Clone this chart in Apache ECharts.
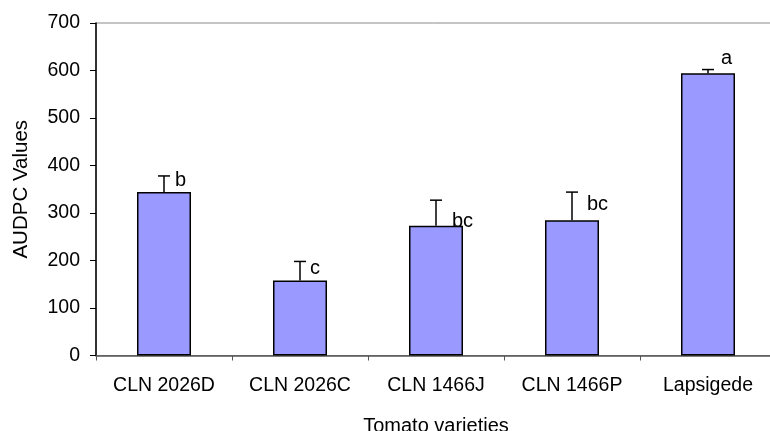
<!DOCTYPE html>
<html>
<head>
<meta charset="utf-8">
<script src="https://cdn.jsdelivr.net/npm/echarts@6/dist/echarts.min.js"></script>
<style>html,body{margin:0;padding:0;background:#fff;}#c{width:770px;height:431px;}</style>
</head>
<body>
<div id="c"></div>
<script>
// ---- data ----
var categories = ['CLN 2026D', 'CLN 2026C', 'CLN 1466J', 'CLN 1466P', 'Lapsigede'];
var audpcMeans = [344, 158, 273, 285, 594];
var audpcErrors = [34, 40, 54, 59, 8];
var significanceLetters = ['b', 'c', 'bc', 'bc', 'a'];
var yTicks = [0, 100, 200, 300, 400, 500, 600, 700];

// ---- styles (label nudges in px relative to error-bar top) ----
var letterNudge = [[11, 5], [10, 7], [16, 21], [15, 12], [13, -11]];
var FONT = '"Liberation Sans", Arial, sans-serif';

var chart = echarts.init(document.getElementById('c'), null, {renderer: 'canvas'});

var errData = categories.map(function (c, i) {
  return [i, audpcMeans[i], audpcMeans[i] + audpcErrors[i], significanceLetters[i]];
});

chart.setOption({
  animation: false,
  backgroundColor: '#ffffff',
  grid: {left: 96, top: 23, right: -6, bottom: 75.5, show: true, borderColor: '#8a8a8a', borderWidth: 1,
    containLabel: false, outerBoundsMode: 'none'},
  xAxis: {
    type: 'category',
    data: categories,
    boundaryGap: true,
    name: 'Tomato varieties',
    nameLocation: 'middle',
    nameGap: 61,
    nameTextStyle: {fontFamily: FONT, fontSize: 20, color: '#000'},
    axisLine: {show: true, lineStyle: {color: '#555', width: 1.5}},
    axisTick: {show: true, length: 5, interval: 0, lineStyle: {color: '#555'}},
    axisLabel: {interval: 0, margin: 20, fontFamily: FONT, fontSize: 19.5, color: '#000'}
  },
  yAxis: {
    type: 'value',
    min: 0, max: 700, interval: 100,
    name: 'AUDPC Values',
    nameLocation: 'middle',
    nameGap: 64,
    nameTextStyle: {fontFamily: FONT, fontSize: 20.5, color: '#000'},
    splitLine: {show: false},
    axisLine: {show: true, lineStyle: {color: '#000', width: 1.5}},
    axisTick: {show: true, length: 6, lineStyle: {color: '#000'}},
    axisLabel: {
      margin: 16, fontFamily: FONT, fontSize: 19.5, color: '#000',
      formatter: function (v) { return yTicks.indexOf(v) >= 0 ? String(v) : ''; }
    }
  },
  series: [
    {
      type: 'bar',
      data: audpcMeans,
      barWidth: 54,
      itemStyle: {color: '#9999ff', borderColor: '#000', borderWidth: 1.5},
      z: 2
    },
    {
      type: 'custom',
      data: errData,
      z: 3,
      renderItem: function (params, api) {
        var i = params.dataIndex;
        var base = api.coord([api.value(0), api.value(1)]);
        var top = api.coord([api.value(0), api.value(2)]);
        var half = 6;
        var nud = letterNudge[i];
        return {
          type: 'group',
          children: [
            {type: 'line', shape: {x1: base[0], y1: base[1], x2: top[0], y2: top[1]}, style: {stroke: '#000', lineWidth: 1.5}},
            {type: 'line', shape: {x1: top[0] - half, y1: top[1], x2: top[0] + half, y2: top[1]}, style: {stroke: '#000', lineWidth: 1.5}},
            {type: 'text', x: top[0] + nud[0], y: top[1] + nud[1],
              style: {text: significanceLetters[i], fill: '#000', font: '20px ' + FONT, textAlign: 'left', textVerticalAlign: 'middle'}}
          ]
        };
      }
    }
  ]
});
</script>
</body>
</html>
